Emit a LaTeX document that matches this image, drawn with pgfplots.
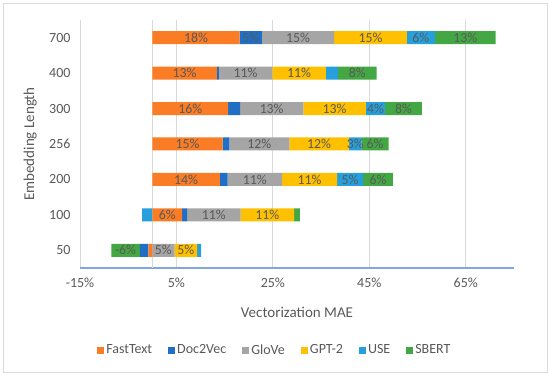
\documentclass[border=0pt]{standalone}
\usepackage{pgfplots}
\usepackage{pgfplotstable}
\pgfplotsset{compat=1.18}
\usepackage{fontspec}
\setmainfont{Carlito}
\definecolor{cFT}{HTML}{FA7D26}
\definecolor{cD2V}{HTML}{1F6FC6}
\definecolor{cGL}{HTML}{A5A5A5}
\definecolor{cGPT}{HTML}{FFC000}
\definecolor{cUSE}{HTML}{26A0DC}
\definecolor{cSB}{HTML}{43A843}
\definecolor{txtgray}{HTML}{595959}
\definecolor{gridgray}{HTML}{D9D9D9}
\definecolor{axblue}{HTML}{7FA7DE}
\pgfplotstableread{
y  ft    ftl d2v  d2vl gl   gll gp   gpl us   usl sb   sbl
0  -0.8  n   -1.8 n    4.6  5   4.7  5   0.8  n   -5.9 -6
1  6.2   6   1.0  n    11.1 11  11.1 11  -2.1 n   1.2  n
2  14.0  14  1.6  n    11.3 11  11.4 11  5.4  5   6.2  6
3  14.6  15  1.4  n    12.4 12  12.4 12  2.6  3   5.6  6
4  15.7  16  2.5  n    13.1 13  13.0 13  4.0  4   7.6  8
5  13.4  13  0.4  n    11.1 11  11.1 11  2.5  n   8.0  8
6  18.1  18  4.6  5    15.0 15  15.1 15  5.8  6   12.6 13
}\data
\def\nolab{n}
\newcommand\barlab{\edef\tmp{\pgfplotspointmeta}\ifx\tmp\nolab\else\pgfplotspointmeta\%\fi}
\begin{document}
\begin{tikzpicture}
\begin{axis}[
  at={(80pt,107pt)}, anchor=south west,
  scale only axis, width=434pt, height=248pt,
  xbar stacked, stack negative=separate, bar width=13pt,
  xmin=-15, xmax=75, ymin=-0.5, ymax=6.5,
  xtick={-15,5,25,45,65},
  xticklabels={-15\%,5\%,25\%,45\%,65\%},
  ytick={0,...,6},
  yticklabels={50,100,200,256,300,400,700},
  extra x ticks={0}, extra x tick labels={},
  extra x tick style={grid=major, major grid style={gridgray, line width=0.8pt}},
  xmajorgrids, major grid style={gridgray, line width=0.8pt},
  major tick length=0pt,
  axis lines*=left,
  y axis line style={draw=none},
  x axis line style={axblue, line width=1.2pt, -},
  tick label style={font=\fontsize{14}{16}\selectfont, text=txtgray},
  /pgf/number format/assume math mode=true,
  xticklabel style={yshift=-6pt},
  yticklabel style={xshift=-6pt},
  xlabel={Vectorization MAE},
  ylabel={Embedding Length},
  label style={font=\fontsize{15}{17}\selectfont, text=txtgray},
  xlabel style={at={(axis description cs:0.5,-0.177)}, anchor=center},
  ylabel style={at={(axis description cs:-0.115,0.5)}, anchor=center},
  point meta=explicit symbolic,
  nodes near coords={\barlab},
  nodes near coords style={font=\fontsize{13.8}{16}\selectfont, text=txtgray},
  legend columns=6,
  legend style={at={(axis description cs:0.449,-0.331)}, anchor=center, draw=none,
    font=\fontsize{14}{16}\selectfont, text=txtgray,
    /tikz/every even column/.append style={column sep=14pt}},
  legend image code/.code={\fill[#1] (0pt,-3.5pt) rectangle (7pt,3.5pt);},
]
\addplot[fill=cFT, draw=none] table[x=ft, y=y, meta=ftl] {\data};
\addplot[fill=cD2V, draw=none] table[x=d2v, y=y, meta=d2vl] {\data};
\addplot[fill=cGL, draw=none] table[x=gl, y=y, meta=gll] {\data};
\addplot[fill=cGPT, draw=none] table[x=gp, y=y, meta=gpl] {\data};
\addplot[fill=cUSE, draw=none] table[x=us, y=y, meta=usl] {\data};
\addplot[fill=cSB, draw=none] table[x=sb, y=y, meta=sbl] {\data};
\legend{FastText,Doc2Vec,GloVe,GPT-2,USE,SBERT}
\end{axis}
\path[use as bounding box] (0,0) rectangle (550pt,375pt);
\draw[gridgray, line width=0.8pt] (3pt,3pt) rectangle (547pt,372pt);
\end{tikzpicture}
\end{document}
